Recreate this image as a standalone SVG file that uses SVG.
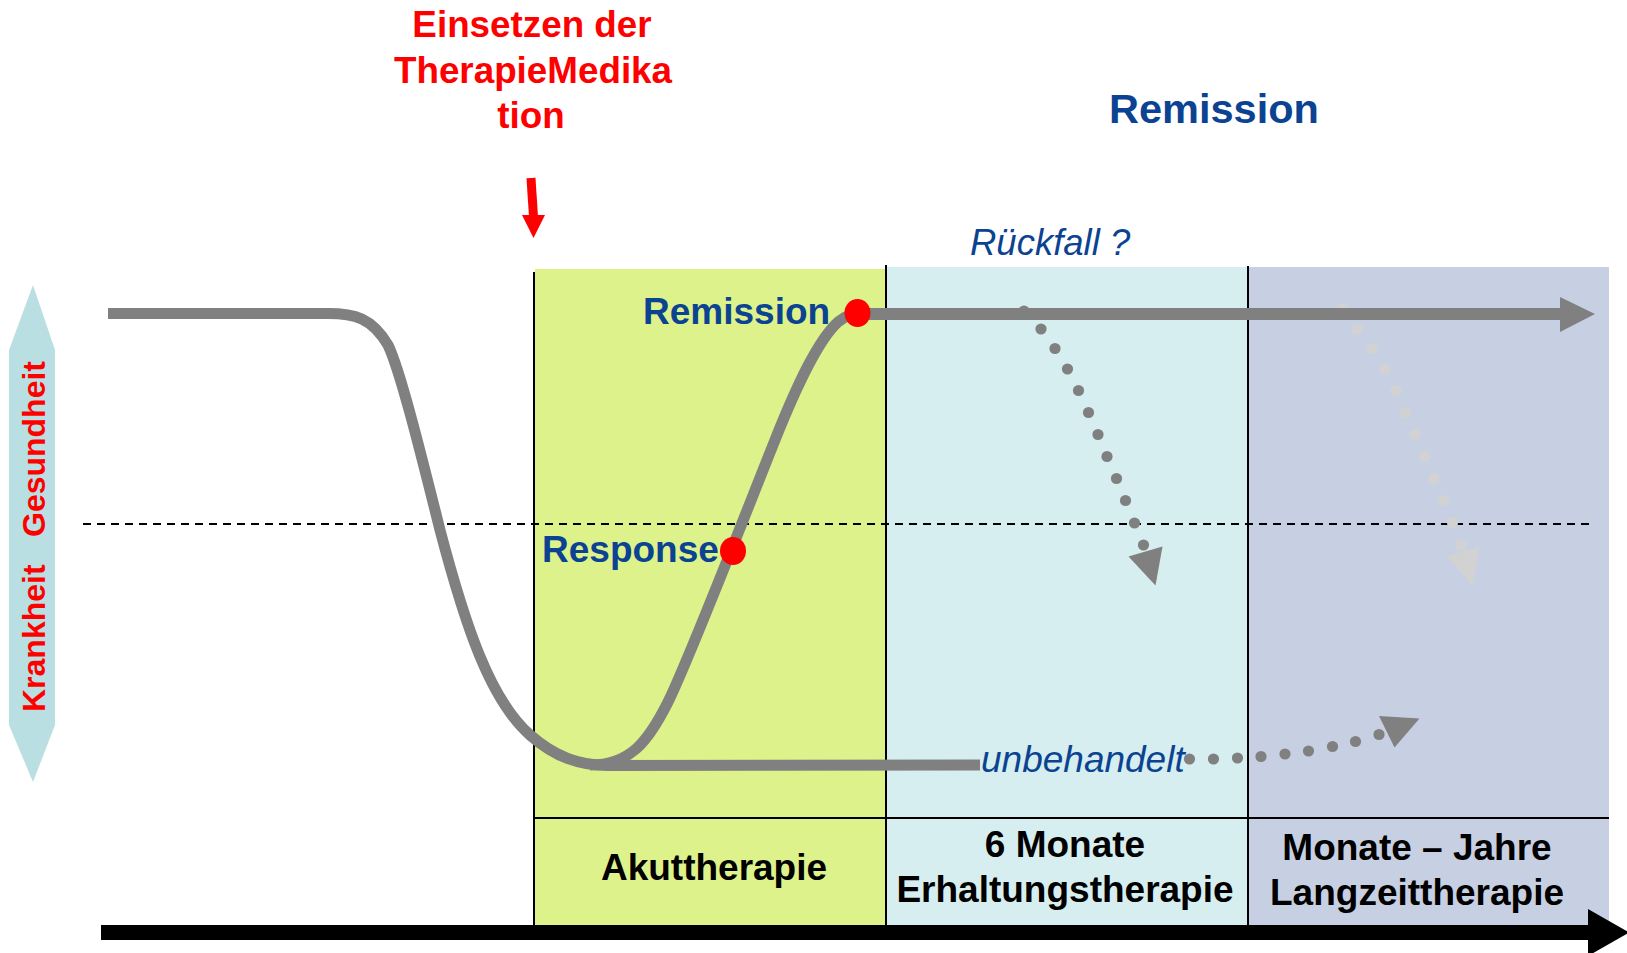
<svg xmlns="http://www.w3.org/2000/svg" width="1627" height="953" viewBox="0 0 1627 953">
<style>
text{font-family:"Liberation Sans",Arial,sans-serif}
.b{font-weight:bold}
.red{fill:#FF0000}
.blue{fill:#0B4392}
.lbl{font-weight:bold;font-size:37px;fill:#000;text-anchor:middle}
.vline{stroke:#000;stroke-width:2}
.curve{fill:none;stroke:#808080;stroke-width:11}
.dot{fill:#808080}
.ldot{fill:#D2D2D2}
.rdot{fill:#FF0000}
</style>
<rect width="1627" height="953" fill="#FFFFFF"/>
<g id="panels">
<rect id="panel-akut" x="535" y="269" width="351" height="656" fill="#DDF28B"/>
<rect id="panel-erhalt" x="886" y="267" width="362" height="658" fill="#D6EEEF"/>
<rect id="panel-lang" x="1248" y="267" width="361" height="658" fill="#C7D0E2"/>
<line class="vline" x1="534" y1="272" x2="534" y2="925"/>
<line class="vline" x1="886" y1="265" x2="886" y2="925"/>
<line class="vline" x1="1248" y1="266" x2="1248" y2="925"/>
<line class="vline" x1="534" y1="818" x2="1609" y2="818"/>
</g>
<g id="axis-y">
<polygon points="33,285 55,350 55,725 33,782 9,725 9,350" fill="#BADFE3"/>
<text class="b red" font-size="32" transform="translate(44.5,537) rotate(-90)">Gesundheit</text>
<text class="b red" font-size="32" transform="translate(44.5,712) rotate(-90)">Krankheit</text>
</g>
<line id="threshold" x1="83" y1="524" x2="1592" y2="524" stroke="#000" stroke-width="2" stroke-dasharray="8 6"/>
<g id="title">
<text class="b red" font-size="36.8" text-anchor="middle" x="532" y="37">Einsetzen der</text>
<text class="b red" font-size="36.8" text-anchor="middle" x="533" y="83">TherapieMedika</text>
<text class="b red" font-size="36.8" text-anchor="middle" x="531" y="128">tion</text>
</g>
<g id="remission-title"><text class="b blue" font-size="41.5" x="1109" y="123">Remission</text></g>
<g id="rueckfall-label"><text class="blue" font-style="italic" font-size="36.5" x="970" y="255">Rückfall ?</text></g>
<g id="connectors">
<g id="start-arrow">
<line x1="531" y1="178" x2="533.5" y2="217" stroke="#FF0000" stroke-width="9"/>
<polygon points="522,215 545,215 533.5,238" fill="#FF0000"/>
</g>
<g id="relapse-1">
<circle class="dot" cx="1024" cy="311" r="5.6"/>
<circle class="dot" cx="1041" cy="329" r="5.6"/>
<circle class="dot" cx="1055" cy="348.5" r="5.6"/>
<circle class="dot" cx="1067.5" cy="369" r="5.6"/>
<circle class="dot" cx="1078.5" cy="390.5" r="5.6"/>
<circle class="dot" cx="1088.5" cy="412.5" r="5.6"/>
<circle class="dot" cx="1098" cy="434.5" r="5.6"/>
<circle class="dot" cx="1107" cy="456.5" r="5.6"/>
<circle class="dot" cx="1116.5" cy="478.5" r="5.6"/>
<circle class="dot" cx="1125.5" cy="500.5" r="5.6"/>
<circle class="dot" cx="1134.5" cy="523" r="5.6"/>
<circle class="dot" cx="1143.5" cy="545" r="5.6"/>
<polygon class="dot" points="1128.5,556.5 1162.5,546.5 1155.5,585.5"/>
</g>
<g id="relapse-2">
<circle class="ldot" cx="1342" cy="309" r="5.6"/>
<circle class="ldot" cx="1357.5" cy="329.5" r="5.6"/>
<circle class="ldot" cx="1372" cy="348.5" r="5.6"/>
<circle class="ldot" cx="1385" cy="369" r="5.6"/>
<circle class="ldot" cx="1396" cy="390.5" r="5.6"/>
<circle class="ldot" cx="1405.5" cy="412.5" r="5.6"/>
<circle class="ldot" cx="1415" cy="434.5" r="5.6"/>
<circle class="ldot" cx="1424.5" cy="456.5" r="5.6"/>
<circle class="ldot" cx="1434" cy="478.5" r="5.6"/>
<circle class="ldot" cx="1443.5" cy="500.5" r="5.6"/>
<circle class="ldot" cx="1452.5" cy="522.5" r="5.6"/>
<circle class="ldot" cx="1461" cy="545" r="5.6"/>
<polygon class="ldot" points="1446.5,556.5 1479.5,546.5 1472.5,585"/>
</g>
<g id="untreated-dots">
<circle class="dot" cx="1189.5" cy="759" r="5.6"/>
<circle class="dot" cx="1213.5" cy="759" r="5.6"/>
<circle class="dot" cx="1237.5" cy="758" r="5.6"/>
<circle class="dot" cx="1261" cy="756.5" r="5.6"/>
<circle class="dot" cx="1285" cy="754" r="5.6"/>
<circle class="dot" cx="1308.5" cy="751" r="5.6"/>
<circle class="dot" cx="1332.5" cy="746.5" r="5.6"/>
<circle class="dot" cx="1355.5" cy="741.5" r="5.6"/>
<circle class="dot" cx="1379" cy="734.5" r="5.6"/>
<polygon class="dot" points="1379,716 1419.5,718.5 1394.5,747.5"/>
</g>
<path id="decline" class="curve" d="M108,313.5 H325 C355,313 372,318 388,345 C400,370 420,450 440,530 C465,625 490,700 530,735 C555,757 580,766 610,765.5 L980,765"/>
<path id="response-curve" class="curve" d="M590,765 C630,765 648,742 668,702 C688,662 745,515 775,440 C797,385 818,340 838,322 C848,314 853,313 858,313.5"/>
<g id="remission-arrow">
<rect x="858" y="308" width="703" height="12" fill="#808080"/>
<polygon points="1560,297 1595,314 1560,332" fill="#808080"/>
</g>
<g id="time-axis">
<rect x="101" y="925" width="1488" height="15" fill="#000"/>
<polygon points="1588,909 1629,932.5 1588,956" fill="#000"/>
</g>
</g>
<g id="node-remission">
<ellipse class="rdot" cx="857.5" cy="313" rx="13" ry="14"/>
<text class="b blue" font-size="37" x="643" y="324">Remission</text>
</g>
<g id="node-response">
<ellipse class="rdot" cx="733" cy="551" rx="13" ry="14"/>
<text class="b blue" font-size="37" x="542" y="562">Response</text>
</g>
<g id="node-unbehandelt"><text class="blue" font-style="italic" font-size="37" x="981" y="772">unbehandelt</text></g>
<g id="label-akut"><text class="lbl" x="714" y="880">Akuttherapie</text></g>
<g id="label-erhalt"><text class="lbl" x="1065" y="857">6 Monate</text><text class="lbl" x="1065" y="902">Erhaltungstherapie</text></g>
<g id="label-lang"><text class="lbl" x="1417" y="860">Monate – Jahre</text><text class="lbl" x="1417" y="905">Langzeittherapie</text></g>
</svg>
